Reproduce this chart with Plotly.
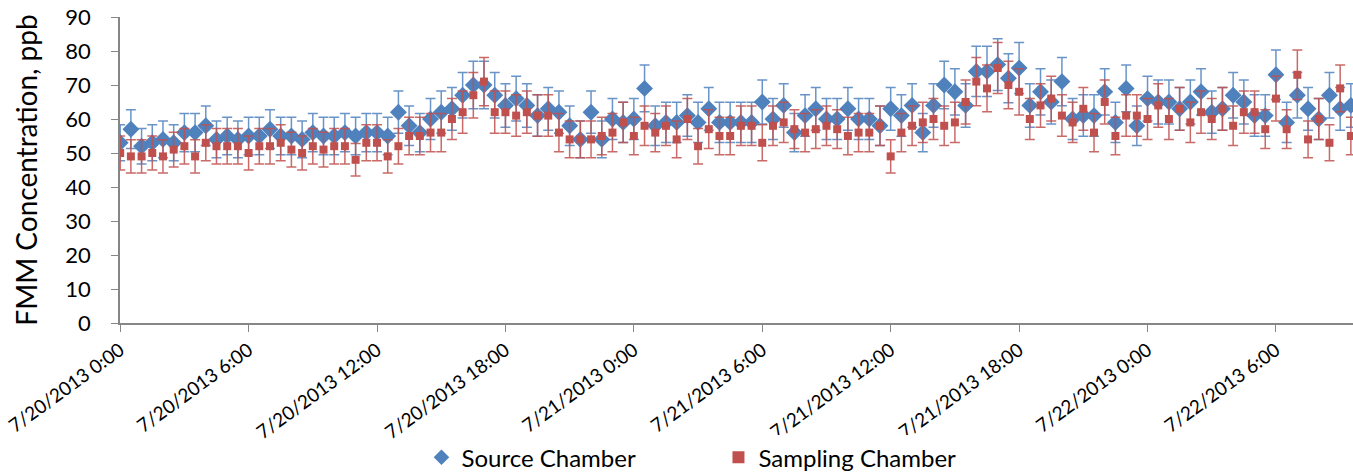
import pandas as pd
import plotly.graph_objects as go

start_time = "2013-07-20 00:00"
n_points = 116
times = pd.date_range(start=start_time, periods=n_points, freq="30min")

source_chamber = [
    53, 57, 52, 53, 54, 53, 56, 56, 58, 54, 55, 54, 55, 55, 57, 55, 55, 54, 56, 55,
    55, 56, 55, 56, 56, 55, 62, 58, 56, 60, 62, 63, 67, 70, 70, 67, 64, 66, 64, 61,
    63, 62, 58, 54, 62, 54, 60, 59, 60, 69, 58, 59, 59, 61, 59, 63, 59, 59, 59, 59,
    65, 60, 64, 56, 61, 63, 60, 60, 63, 60, 60, 58, 63, 61, 64, 56, 64, 70, 68, 64,
    74, 74, 76, 72, 75, 64, 68, 65, 71, 60, 61, 61, 68, 59, 69, 58, 66, 65, 65, 63,
    65, 68, 62, 63, 67, 65, 61, 61, 73, 59, 67, 63, 60, 67, 63, 64,
]
sampling_chamber = [
    50, 49, 49, 50, 49, 51, 52, 49, 53, 52, 52, 52, 50, 52, 52, 53, 51, 50, 52, 51,
    52, 52, 48, 53, 53, 49, 52, 55, 55, 56, 56, 60, 62, 67, 71, 62, 62, 61, 62, 61,
    61, 56, 54, 54, 54, 55, 56, 59, 55, 58, 56, 58, 54, 60, 52, 57, 55, 55, 58, 58,
    53, 58, 59, 57, 56, 57, 58, 57, 55, 56, 56, 58, 49, 56, 58, 59, 60, 58, 59, 65,
    71, 69, 75, 70, 68, 60, 64, 66, 61, 59, 63, 56, 65, 55, 61, 61, 60, 64, 60, 63,
    59, 62, 60, 63, 58, 62, 62, 57, 66, 57, 73, 54, 60, 53, 69, 55,
]
error_percent = 10

series_names = ["Source Chamber", "Sampling Chamber"]
y_title = "FMM Concentration, ppb"
x_range = ["2013-07-19 23:59:30", "2013-07-22 09:36"]

blue = "#4F81BD"
red = "#C0504D"
font_family = "Lato, 'Open Sans', sans-serif"

fig = go.Figure()
fig.add_trace(go.Scatter(
    x=times, y=source_chamber, name=series_names[0], mode="markers",
    marker=dict(symbol="diamond", size=13, color=blue),
    error_y=dict(type="percent", value=error_percent, color="rgba(79,129,189,0.85)",
                 thickness=1.5, width=5),
))
fig.add_trace(go.Scatter(
    x=times, y=sampling_chamber, name=series_names[1], mode="markers",
    marker=dict(symbol="square", size=8, color=red),
    error_y=dict(type="percent", value=error_percent, color="rgba(192,80,77,0.85)",
                 thickness=1.5, width=5),
))

fig.update_layout(
    width=1353, height=474,
    margin=dict(l=120, r=0, t=17, b=151, autoexpand=False),
    paper_bgcolor="white", plot_bgcolor="white",
    font=dict(family=font_family, color="black"),
    showlegend=True,
    legend=dict(orientation="h", x=0.2445, xanchor="left", y=-0.44, yanchor="middle",
                font=dict(size=24, family=font_family), entrywidth=252,
                entrywidthmode="pixels", itemsizing="constant"),
)
fig.update_xaxes(
    type="date", range=x_range, tick0="2013-07-20 00:00", dtick=6 * 3600 * 1000,
    tickformat="%-m/%-d/%Y %-H:%M", tickangle=-36, automargin=False,
    tickfont=dict(size=19, family=font_family),
    showline=True, linecolor="#868686", linewidth=1.5,
    ticks="outside", ticklen=7, tickcolor="#868686",
    showgrid=False, zeroline=False,
)
fig.update_yaxes(
    range=[0, 90], dtick=10, tickfont=dict(size=22, family=font_family),
    automargin=False,
    showline=True, linecolor="#868686", linewidth=1.5,
    ticks="outside", ticklen=7, tickcolor="#868686", ticklabelstandoff=16,
    showgrid=False, zeroline=False,
    title=dict(text=y_title, font=dict(size=28, family=font_family), standoff=20),
)

fig.write_html("out.html")
